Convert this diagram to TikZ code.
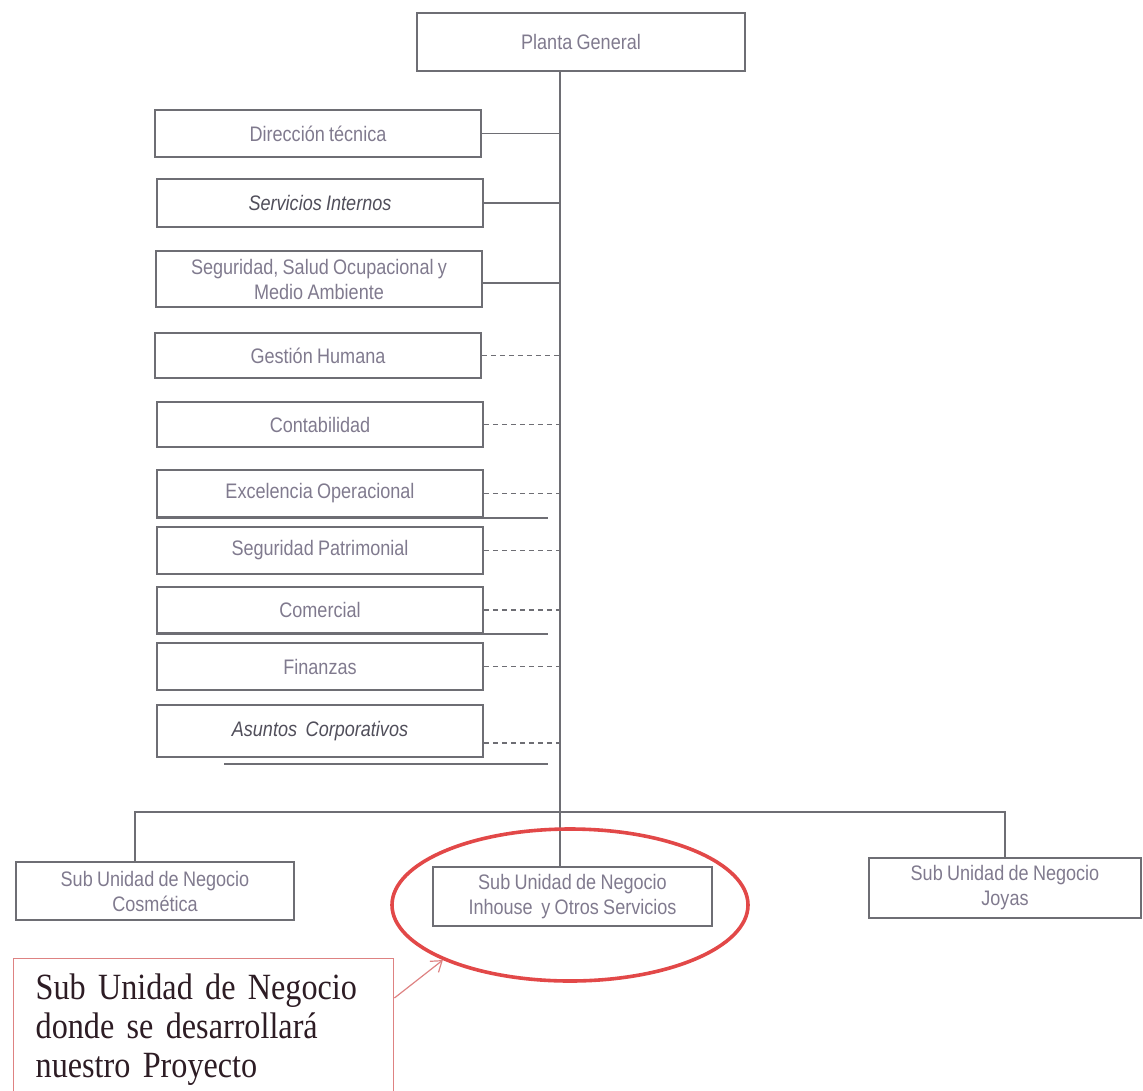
\documentclass[tikz,border=0pt]{standalone}
\usepackage{fontspec}
\setmainfont[FakeStretch=0.86, WordSpace=0.86]{Liberation Sans}
\newfontfamily\notefont[FakeStretch=0.87]{Liberation Serif}
\newcommand\notespace{\spaceskip=7pt plus 2pt minus 1pt\relax}
\usetikzlibrary{positioning, arrows.meta, shapes.geometric}
\definecolor{boxtext}{RGB}{128,122,142}
\definecolor{boxdark}{RGB}{80,78,90}
\definecolor{boxline}{RGB}{110,110,116}
\definecolor{ovalred}{RGB}{226,72,72}
\definecolor{notered}{RGB}{222,130,130}
\definecolor{noteink}{RGB}{45,28,36}

\begin{document}
\begin{tikzpicture}[
    x=1pt, y=-1pt,
    areastyle/.style={rectangle, draw=boxline, line width=1.6pt, minimum width=326pt,
        align=center, text=boxtext, font=\fontsize{21}{25}\selectfont, inner sep=2pt},
    unitstyle/.style={rectangle, draw=boxline, line width=1.6pt, minimum height=58pt,
        align=center, text=boxtext, font=\fontsize{21}{25}\selectfont, inner sep=2pt},
    solidlink/.style={draw=boxline, line width=1.6pt},
    dashlink/.style={draw=boxline, line width=1.6pt, dash pattern=on 5pt off 4pt},
    notestyle/.style={rectangle, draw=notered, line width=1.4pt, anchor=north west,
        text width=336pt, inner xsep=22pt, inner ysep=15pt, align=left, text=noteink,
        font=\notefont\fontsize{37}{39}\selectfont\notespace}
]
\useasboundingbox (0,0) rectangle (1143,1090);

\coordinate (spine) at (560,0);
\coordinate (tick) at (548,0);

\node[unitstyle, minimum width=328pt] (planta) at (581,42) {Planta General};

% solid links
\node[areastyle, minimum height=47pt] (dir) at (318,133.5) {Dirección técnica};
\node[areastyle, minimum height=48pt, text=boxdark, font=\fontsize{21}{25}\selectfont\itshape] (serv) at (320,203) {Servicios Internos};
\node[areastyle, minimum height=56pt] (sso) at (319,279) {Seguridad, Salud Ocupacional y\\Medio Ambiente};

\draw[solidlink] (dir.east) -- (dir.east -| spine);
\draw[solidlink] (serv.east) -- (serv.east -| spine);
\draw[solidlink] ([yshift=-4pt]sso.east) -- ([yshift=-4pt]sso.east -| spine);

% dashed links
\node[areastyle, minimum height=45pt] (gest) at (318,355.5) {Gestión Humana};
\node[areastyle, minimum height=45pt] (cont) at (320,424.5) {Contabilidad};
\node[areastyle, minimum height=47pt] (exc) at (320,493.5) {Excelencia Operacional};
\node[areastyle, minimum height=47pt] (pat) at (320,550.5) {Seguridad Patrimonial};
\node[areastyle, minimum height=46pt] (com) at (320,610) {Comercial};
\node[areastyle, minimum height=47pt] (fin) at (320,666.5) {Finanzas};
\node[areastyle, minimum height=52pt, text=boxdark, font=\fontsize{21}{25}\selectfont\itshape] (asu) at (320,731) {Asuntos \ Corporativos};

\foreach \n in {gest, cont, exc, pat, com, fin}
    \draw[dashlink] (\n.east) -- (\n.east -| spine);
\draw[dashlink] ([yshift=-12pt]asu.east) -- ([yshift=-12pt]asu.east -| spine);

\draw[solidlink] (exc.south west) -- (exc.south -| tick);
\draw[solidlink] (com.south west) -- (com.south -| tick);
\draw[solidlink] ([xshift=68pt, yshift=-6pt]asu.south west) -- ([yshift=-6pt]asu.south -| tick);

% business units
\node[unitstyle, minimum width=278pt] (cos) at (155,891) {Sub Unidad de Negocio\\Cosmética};
\node[unitstyle, minimum width=279pt, minimum height=59pt] (inh) at (572.5,896.5) {Sub Unidad de Negocio\\Inhouse \ y Otros Servicios};
\node[unitstyle, minimum width=272pt, minimum height=60pt] (joy) at (1005,888) {Sub Unidad de Negocio\\Joyas};

\coordinate (buscos) at (135,812);
\coordinate (busjoy) at (1005,812);
\draw[solidlink] (planta.south -| spine) -- (inh.north -| spine);
\draw[solidlink] (cos.north -| buscos) -- (buscos) -- (busjoy) -- (joy.north);

% highlight
\node[ellipse, draw=ovalred, line width=3.6pt, minimum width=356pt, minimum height=152pt] (focus) at (570,905) {};
\node[notestyle] (note) at (13,958) {Sub Unidad de Negocio\\donde se desarrollará\\nuestro Proyecto};
\draw[draw=notered, line width=1.2pt, -{Straight Barb[length=10pt, width=14pt]}] ([yshift=-40pt]note.north east) -- (focus.south west);

\end{tikzpicture}
\end{document}
